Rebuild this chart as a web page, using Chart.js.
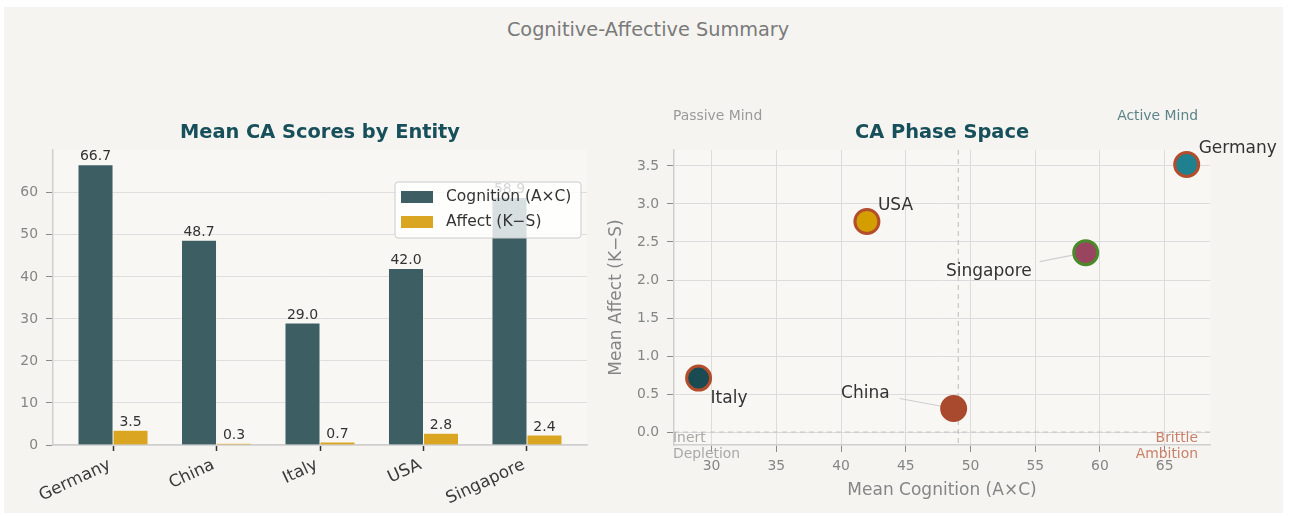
<!DOCTYPE html>
<html>
<head>
<meta charset="utf-8">
<script src="https://cdn.jsdelivr.net/npm/chart.js@4.4.1/dist/chart.umd.min.js"></script>
<style>
  html, body { margin: 0; padding: 0; background: #ffffff; }
  body { width: 1290px; height: 516px; position: relative; overflow: hidden; font-family: 'DejaVu Sans', sans-serif; }
  #card { position: absolute; left: 4px; top: 7px; width: 1279px; height: 506px; background: #f5f4f0; }
  #suptitle { position: absolute; left: 0; top: 19px; width: 1296px; text-align: center; font-size: 19.3px; line-height: 22px; color: #7a7a7a; }
  #barChart { position: absolute; left: 0; top: 0; }
  #phaseChart { position: absolute; left: 600px; top: 0; }
</style>
</head>
<body>
<div id="card"></div>
<div id="suptitle">Cognitive-Affective Summary</div>
<canvas id="barChart" width="600" height="516"></canvas>
<canvas id="phaseChart" width="690" height="516"></canvas>
<script>
// data
const entities = ['Germany', 'China', 'Italy', 'USA', 'Singapore'];
const cognition = [66.7, 48.7, 29.0, 42.0, 58.9];
const affect = [3.52, 0.31, 0.71, 2.77, 2.36];
const barYTicks = [0, 10, 20, 30, 40, 50, 60];
const phaseXTicks = [30, 35, 40, 45, 50, 55, 60, 65];
const phaseYTicks = [0, 0.5, 1.0, 1.5, 2.0, 2.5, 3.0, 3.5];

const pointFill = ['#1f8090', '#a94a2e', '#1a4a52', '#d49e00', '#9a4560'];
const pointEdge = ['#b34d2c', '#a94a2e', '#b34d2c', '#b34d2c', '#4a8a2a'];

Chart.defaults.font.family = "'DejaVu Sans', sans-serif";
Chart.defaults.animation = false;

const titleColor = '#17505a';

function drawTitle(ctx, text, x, y) {
    ctx.save();
    ctx.font = 'bold 19.4px "DejaVu Sans"';
    ctx.fillStyle = titleColor;
    ctx.textAlign = 'center';
    ctx.textBaseline = 'middle';
    ctx.fillText(text, x, y);
    ctx.restore();
}

function fillArea(chart, color) {
    const a = chart.chartArea;
    chart.ctx.save();
    chart.ctx.fillStyle = color;
    chart.ctx.fillRect(a.left, a.top, a.right - a.left, a.bottom - a.top);
    chart.ctx.restore();
}

// bar chart extras: value labels, legend, title
const barDecor = {
    id: 'barDecor',
    beforeDraw(chart) {
        fillArea(chart, '#f8f7f4');
    },
    afterDatasetsDraw(chart) {
        const ctx = chart.ctx;
        ctx.save();
        ctx.font = '14px "DejaVu Sans"';
        ctx.fillStyle = '#333333';
        ctx.textAlign = 'center';
        ctx.textBaseline = 'bottom';
        chart.data.datasets.forEach((ds, di) => {
            chart.getDatasetMeta(di).data.forEach((bar, i) => {
                ctx.fillText(ds.data[i].y.toFixed(1), bar.x, bar.y - 1);
            });
        });
        ctx.restore();
    },
    afterDraw(chart) {
        const ctx = chart.ctx;
        const a = chart.chartArea;
        // legend, upper right, semi transparent
        const lx = a.right - 192, ly = a.top + 32, lw = 186, lh = 56;
        ctx.save();
        ctx.beginPath();
        ctx.roundRect(lx, ly, lw, lh, 3);
        ctx.fillStyle = 'rgba(255,255,255,0.8)';
        ctx.fill();
        ctx.strokeStyle = '#cccccc';
        ctx.lineWidth = 1;
        ctx.stroke();
        ctx.font = '15.5px "DejaVu Sans"';
        ctx.textBaseline = 'middle';
        ctx.textAlign = 'left';
        chart.data.datasets.forEach((ds, i) => {
            const y = ly + 15 + i * 25;
            ctx.fillStyle = ds.backgroundColor;
            ctx.fillRect(lx + 6, y - 6, 32, 12);
            ctx.fillStyle = '#333333';
            ctx.fillText(ds.label, lx + 51, y);
        });
        ctx.restore();
        drawTitle(ctx, 'Mean CA Scores by Entity', (a.left + a.right) / 2, 133);
    }
};

new Chart(document.getElementById('barChart'), {
    type: 'bar',
    data: {
        datasets: [{
            label: 'Cognition (A×C)',
            data: entities.map((e, i) => ({ x: i, y: cognition[i] })),
            backgroundColor: '#3d5f64',
            borderColor: 'rgba(255,255,255,0.45)',
            borderWidth: 0.8,
            barThickness: 35
        }, {
            label: 'Affect (K−S)',
            data: entities.map((e, i) => ({ x: i, y: affect[i] })),
            backgroundColor: '#daa520',
            borderColor: 'rgba(255,255,255,0.45)',
            borderWidth: 0.8,
            barThickness: 35
        }]
    },
    options: {
        responsive: false,
        devicePixelRatio: 1,
        layout: { padding: { left: 0, right: 13, top: 150, bottom: 0 } },
        plugins: { legend: { display: false }, tooltip: { enabled: false } },
        scales: {
            x: {
                type: 'linear',
                offset: false,
                min: -0.58,
                max: 4.58,
                afterBuildTicks: s => { s.ticks = entities.map((e, i) => ({ value: i })); },
                afterFit: s => { s.height = 71; },
                ticks: {
                    autoSkip: false,
                    minRotation: 25,
                    maxRotation: 25,
                    padding: 4,
                    labelOffset: -3,
                    color: '#3a3a3a',
                    font: { size: 16.8 },
                    callback: v => entities[v]
                },
                grid: { offset: false, drawOnChartArea: false, drawTicks: true, tickLength: 6, tickColor: '#333333', tickWidth: 1.5 },
                border: { color: '#cfcfcf', width: 1.5 }
            },
            y: {
                min: 0,
                max: 70.2,
                afterBuildTicks: s => { s.ticks = barYTicks.map(v => ({ value: v })); },
                afterFit: s => { s.width = 53; },
                ticks: { padding: 8, color: '#858585', font: { size: 13.9 } },
                grid: { color: '#dedede', lineWidth: 1, drawTicks: true, tickLength: 7, tickColor: '#8a8a8a' },
                border: { color: '#cfcfcf', width: 1.5 }
            }
        }
    },
    plugins: [barDecor]
});

// phase-space extras
const meanCognition = cognition.reduce((s, v) => s + v, 0) / cognition.length;
const labelStyle = [
    { dx: 12, dy: -16, align: 'left' },                          // Germany
    { dx: -64, dy: -15, align: 'right', lx: -54, ly: -10 },      // China
    { dx: 12, dy: 20, align: 'left' },                           // Italy
    { dx: 11, dy: -16, align: 'left' },                          // USA
    { dx: -54, dy: 19, align: 'right', lx: -46, ly: 9 }          // Singapore
];

const phaseDecor = {
    id: 'phaseDecor',
    beforeDraw(chart) {
        fillArea(chart, '#f8f7f4');
    },
    beforeDatasetsDraw(chart) {
        const ctx = chart.ctx;
        const a = chart.chartArea;
        const xs = chart.scales.x, ys = chart.scales.y;
        ctx.save();
        ctx.strokeStyle = '#c9c9c9';
        ctx.lineWidth = 1.3;
        ctx.setLineDash([5, 4]);
        const mx = xs.getPixelForValue(meanCognition);
        ctx.beginPath(); ctx.moveTo(mx, a.top); ctx.lineTo(mx, a.bottom); ctx.stroke();
        const zy = ys.getPixelForValue(0);
        ctx.beginPath(); ctx.moveTo(a.left, zy); ctx.lineTo(a.right, zy); ctx.stroke();
        ctx.setLineDash([]);
        // leader lines
        ctx.strokeStyle = '#cfcfcf';
        ctx.lineWidth = 1.2;
        chart.getDatasetMeta(0).data.forEach((pt, i) => {
            const st = labelStyle[i];
            if (st.lx === undefined) return;
            ctx.beginPath(); ctx.moveTo(pt.x + st.lx, pt.y + st.ly); ctx.lineTo(pt.x, pt.y); ctx.stroke();
        });
        ctx.restore();
    },
    afterDraw(chart) {
        const ctx = chart.ctx;
        const a = chart.chartArea;
        ctx.save();
        ctx.font = '17px "DejaVu Sans"';
        ctx.fillStyle = '#333333';
        ctx.textBaseline = 'middle';
        chart.getDatasetMeta(0).data.forEach((pt, i) => {
            const st = labelStyle[i];
            ctx.textAlign = st.align;
            ctx.fillText(entities[i], pt.x + st.dx, pt.y + st.dy);
        });

        // quadrant captions
        ctx.font = '13.9px "DejaVu Sans"';
        ctx.textAlign = 'left';
        ctx.fillStyle = '#9a9a9a';
        ctx.fillText('Passive Mind', a.left - 1, a.top - 34);
        ctx.fillStyle = '#a8a8a8';
        ctx.fillText('Inert', a.left - 1, a.bottom - 7);
        ctx.fillText('Depletion', a.left - 1, a.bottom + 9);
        ctx.textAlign = 'right';
        ctx.fillStyle = '#5d8489';
        ctx.fillText('Active Mind', a.right - 12, a.top - 34);
        ctx.fillStyle = '#c98068';
        ctx.fillText('Brittle', a.right - 12, a.bottom - 7);
        ctx.fillText('Ambition', a.right - 12, a.bottom + 9);

        // axis titles
        ctx.font = '17px "DejaVu Sans"';
        ctx.fillStyle = '#858585';
        ctx.textAlign = 'center';
        ctx.fillText('Mean Cognition (A×C)', (a.left + a.right) / 2, 491);
        ctx.translate(17, (a.top + a.bottom) / 2);
        ctx.rotate(-Math.PI / 2);
        ctx.fillText('Mean Affect (K−S)', 0, 0);
        ctx.restore();

        drawTitle(ctx, 'CA Phase Space', (a.left + a.right) / 2, 133);
    }
};

new Chart(document.getElementById('phaseChart'), {
    type: 'scatter',
    data: {
        datasets: [{
            label: 'Entities',
            data: entities.map((e, i) => ({ x: cognition[i], y: affect[i] })),
            backgroundColor: pointFill,
            borderColor: pointEdge,
            borderWidth: 3,
            pointRadius: 12,
            pointHoverRadius: 12
        }]
    },
    options: {
        responsive: false,
        devicePixelRatio: 1,
        layout: { padding: { left: 0, right: 80, top: 150, bottom: 0 } },
        plugins: { legend: { display: false }, tooltip: { enabled: false } },
        scales: {
            x: {
                type: 'linear',
                min: 27.1,
                max: 68.5,
                afterBuildTicks: s => { s.ticks = phaseXTicks.map(v => ({ value: v })); },
                afterFit: s => { s.height = 71; },
                ticks: { padding: 6, color: '#858585', font: { size: 13.9 } },
                grid: { color: '#dcdcdc', lineWidth: 1, drawTicks: true, tickLength: 7, tickColor: '#8a8a8a' },
                border: { color: '#cfcfcf', width: 1.5 }
            },
            y: {
                min: -0.17,
                max: 3.71,
                afterBuildTicks: s => { s.ticks = phaseYTicks.map(v => ({ value: v })); },
                afterFit: s => { s.width = 74; },
                ticks: { padding: 8, color: '#858585', font: { size: 13.9 }, callback: v => v.toFixed(1) },
                grid: { color: '#dcdcdc', lineWidth: 1, drawTicks: true, tickLength: 7, tickColor: '#8a8a8a' },
                border: { color: '#cfcfcf', width: 1.5 }
            }
        }
    },
    plugins: [phaseDecor]
});
</script>
</body>
</html>
